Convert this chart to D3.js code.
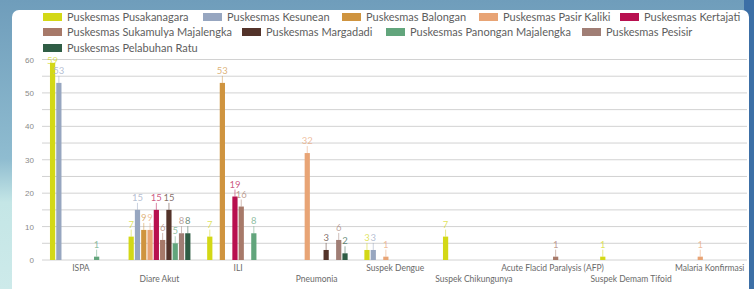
<!DOCTYPE html>
<html>
<head>
<meta charset="utf-8">
<script src="https://cdn.jsdelivr.net/npm/d3@7"></script>
<style>
  body { margin: 0; padding: 0; overflow: hidden; }
  svg { display: block; font-family: Lato, "Open Sans", sans-serif; }
</style>
</head>
<body>
<div id="chart"></div>
<script>
    const width = 754, height = 289;

    // kategori penyakit
    const categories = ["ISPA", "Diare Akut", "ILI", "Pneumonia", "Suspek Dengue",
        "Suspek Chikungunya", "Acute Flacid Paralysis (AFP)", "Suspek Demam Tifoid", "Malaria Konfirmasi"];

    const seriesNames = ["Puskesmas Pusakanagara", "Puskesmas Kesunean", "Puskesmas Balongan",
        "Puskesmas Pasir Kaliki", "Puskesmas Kertajati", "Puskesmas Sukamulya Majalengka",
        "Puskesmas Margadadi", "Puskesmas Panongan Majalengka", "Puskesmas Pesisir",
        "Puskesmas Pelabuhan Ratu"];

    const seriesColors = ["#d3d816", "#97a6c0", "#cf943f", "#e8a475", "#b8104f",
        "#a77969", "#53332a", "#62a57c", "#a07e75", "#2f5d45"];

    // nilai per puskesmas, urutan sama dengan categories (null = tidak ada)
    const pusakanagara = [59, 7, 7, null, 3, 7, null, 1, null];
    const kesunean     = [53, 15, null, null, 3, null, null, null, null];
    const balongan     = [null, 9, 53, null, null, null, null, null, null];
    const pasirKaliki  = [null, 9, null, 32, 1, null, null, null, 1];
    const kertajati    = [null, 15, 19, null, null, null, null, null, null];
    const sukamulya    = [null, 6, 16, null, null, null, 1, null, null];
    const margadadi    = [null, 15, null, 3, null, null, null, null, null];
    const panongan     = [1, 5, 8, null, null, null, null, null, null];
    const pesisir      = [null, 8, null, 6, null, null, null, null, null];
    const pelabuhanRatu = [null, 8, null, 2, null, null, null, null, null];

    const seriesValues = [pusakanagara, kesunean, balongan, pasirKaliki, kertajati,
        sukamulya, margadadi, panongan, pesisir, pelabuhanRatu];

    const yTicks = [0, 10, 20, 30, 40, 50, 60];
    const gridTicks = d3.range(0, 61, 5);

    const svg = d3.select("#chart")
        .append("svg")
        .attr("width", width)
        .attr("height", height);

    // latar belakang (foto biru di pinggir)
    const defs = svg.append("defs");
    const bg = defs.append("linearGradient").attr("id", "bg")
        .attr("x1", 0).attr("y1", 0).attr("x2", 0).attr("y2", 1);
    bg.append("stop").attr("offset", "0%").attr("stop-color", "#6f9dbb");
    bg.append("stop").attr("offset", "55%").attr("stop-color", "#8fbcd0");
    bg.append("stop").attr("offset", "70%").attr("stop-color", "#c4e6e6");
    bg.append("stop").attr("offset", "100%").attr("stop-color", "#cdeaea");

    svg.append("rect").attr("width", width).attr("height", height).attr("fill", "url(#bg)");
    svg.append("rect").attr("x", 744).attr("width", 10).attr("height", height).attr("fill", "#3c6fa6");
    svg.append("rect").attr("x", 12).attr("y", 10).attr("width", 737).attr("height", 300)
        .attr("rx", 7).attr("fill", "#fff");

    const x0 = d3.scaleBand().domain(categories).range([41.6, 749]);
    const x1 = d3.scaleBand().domain(seriesNames).range([0, x0.bandwidth()])
        .paddingInner(0.17).paddingOuter(1.33);
    const y = d3.scaleLinear().domain([0, 60]).range([260, 59.5]);

    // grid
    svg.append("g").selectAll("line")
        .data(gridTicks)
        .join("line")
        .attr("x1", 42).attr("x2", 747)
        .attr("y1", d => y(d)).attr("y2", d => y(d))
        .attr("stroke", "#d2d2d2")
        .attr("stroke-width", 1);

    // sumbu y
    const yAxis = svg.append("g")
        .attr("transform", "translate(34,0)")
        .call(d3.axisLeft(y).tickValues(yTicks).tickSize(0).tickPadding(0));
    yAxis.select(".domain").remove();
    yAxis.selectAll("text").attr("fill", "#8a8a8a").style("font-size", "8px");

    // label kategori (berselang-seling dua baris)
    svg.append("g").selectAll("text")
        .data(categories)
        .join("text")
        .attr("x", d => x0(d) + x0.bandwidth() / 2)
        .attr("y", (d, i) => i % 2 === 0 ? 271 : 282)
        .attr("text-anchor", "middle")
        .attr("fill", "#6a6a6a")
        .style("font-size", "8.5px")
        .text(d => d);

    // batang
    const bars = [];
    seriesNames.forEach((s, si) => {
        seriesValues[si].forEach((v, ci) => {
            if (v != null) bars.push({ series: s, color: seriesColors[si], cat: categories[ci], value: v });
        });
    });

    const bx = d => x0(d.cat) + x1(d.series);
    const cx = d => bx(d) + x1.bandwidth() / 2;

    svg.append("g").selectAll("rect")
        .data(bars)
        .join("rect")
        .attr("x", bx)
        .attr("y", d => y(d.value))
        .attr("width", x1.bandwidth())
        .attr("height", d => y(0) - y(d.value))
        .attr("fill", d => d.color);

    // garis penunjuk label
    svg.append("g").selectAll("line")
        .data(bars)
        .join("line")
        .attr("x1", cx).attr("x2", cx)
        .attr("y1", d => y(d.value))
        .attr("y2", d => Math.max(y(d.value) - 7, 64))
        .attr("stroke", d => d.color)
        .attr("stroke-opacity", 0.5)
        .attr("stroke-width", 1);

    // label nilai (dijaga tetap di dalam area plot)
    svg.append("g").selectAll("text")
        .data(bars)
        .join("text")
        .attr("x", cx)
        .attr("y", d => Math.max(y(d.value) - 9, 64))
        .attr("text-anchor", "middle")
        .attr("fill", d => d.color)
        .attr("fill-opacity", 0.72)
        .style("font-size", "9.5px")
        .text(d => d.value);

    // legenda
    const legendPos = [
        [43, 17], [203, 17], [342, 17], [479, 17], [620, 17],
        [43, 32], [242, 32], [386, 32], [582, 32],
        [43, 48]
    ];
    const legend = svg.append("g").selectAll("g")
        .data(seriesNames)
        .join("g")
        .attr("transform", (d, i) => `translate(${legendPos[i][0]},${legendPos[i][1]})`);
    legend.append("rect")
        .attr("x", 0).attr("y", -4)
        .attr("width", 19).attr("height", 8)
        .attr("fill", (d, i) => seriesColors[i]);
    legend.append("text")
        .attr("x", 24).attr("y", 4)
        .attr("fill", "#5e5e5e")
        .style("font-size", "11px")
        .text(d => d);
</script>
</body>
</html>
